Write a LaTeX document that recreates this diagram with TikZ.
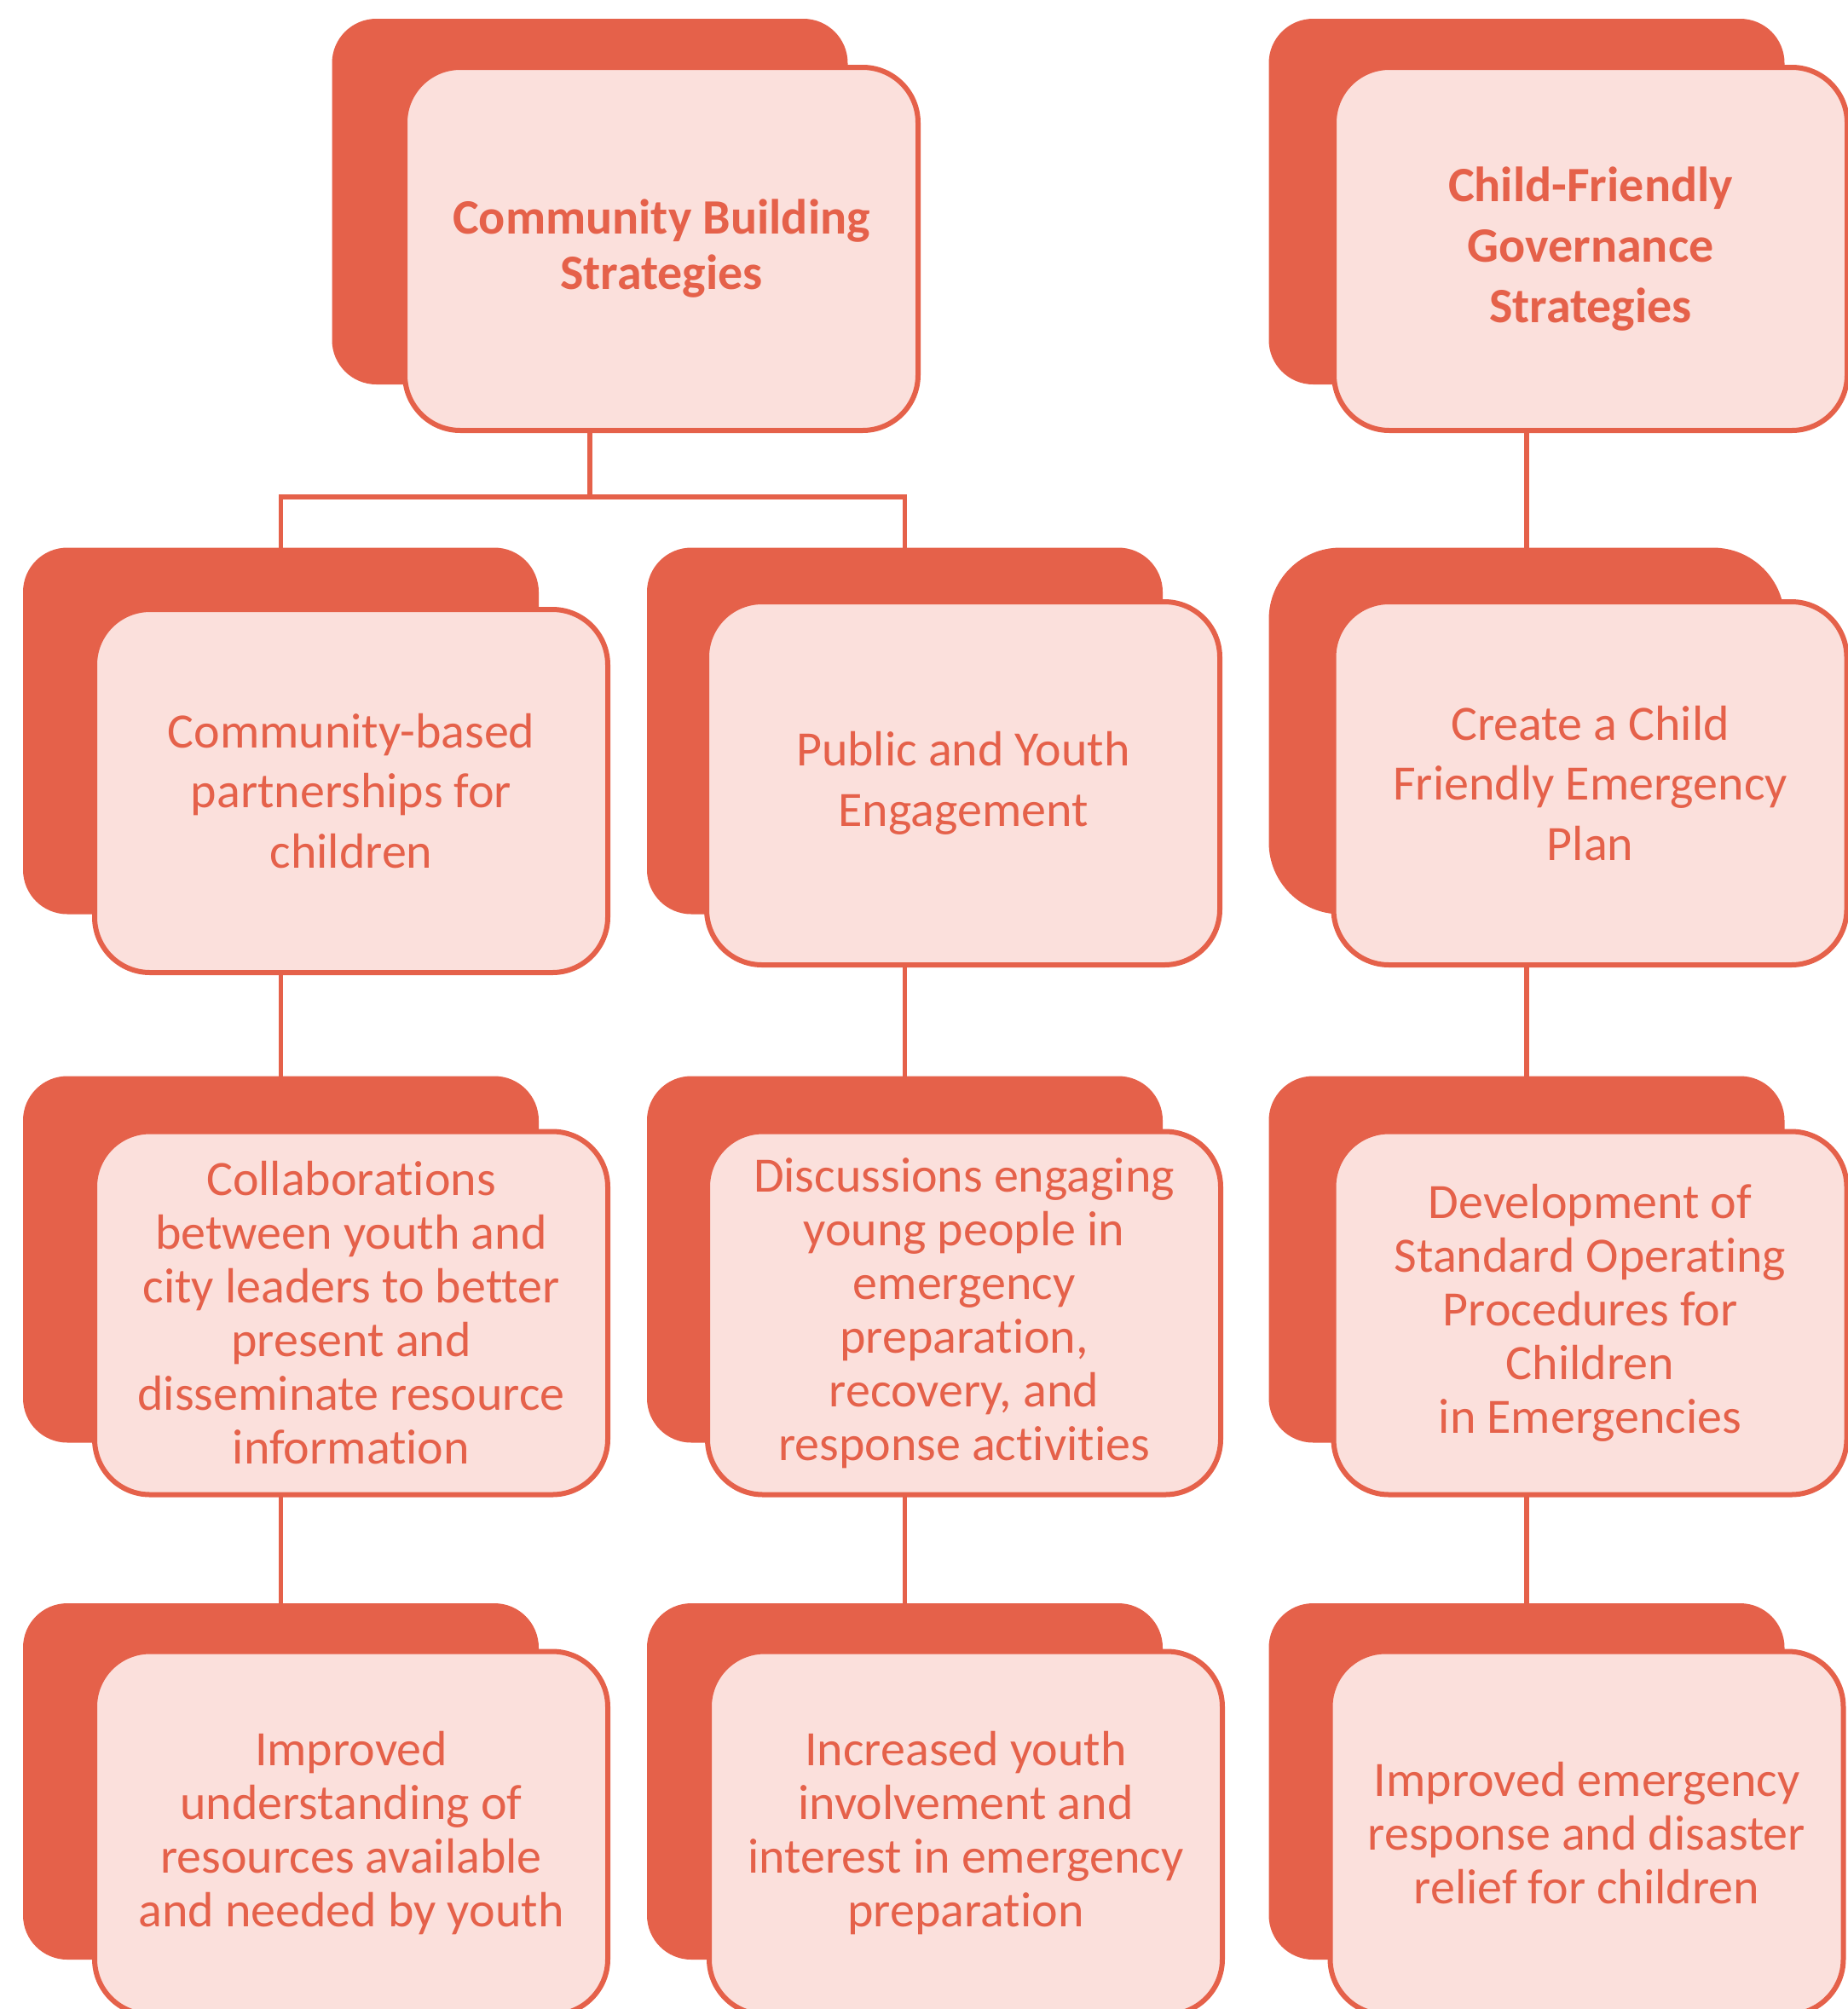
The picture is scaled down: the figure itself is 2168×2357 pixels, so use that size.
\documentclass[tikz,border=0pt]{standalone}
\usepackage{fontspec}
\setmainfont[Ligatures=NoCommon]{Carlito}
\usetikzlibrary{backgrounds}
\definecolor{orangeD}{RGB}{229,97,74}
\definecolor{pinkL}{RGB}{251,224,220}
\begin{document}
\begin{tikzpicture}[x=0.5pt,y=-0.5pt,
  backcard/.style={fill=orangeD, draw=none, rounded corners=26pt, inner sep=0pt, outer sep=0pt,
    minimum width=302.5pt, minimum height=215pt},
  frontcard/.style={fill=pinkL, draw=orangeD, line width=3pt, rounded corners=32.5pt, inner sep=0pt,
    outer sep=0pt, minimum width=301pt, minimum height=213pt, text=orangeD, align=center,
    font=\fontsize{29}{35.35}\selectfont},
  tight/.style={font=\fontsize{29}{31.5}\selectfont},
  titlefont/.style={font=\fontsize{29}{#1}\selectfont\bfseries},
  conn/.style={draw=orangeD, line width=2.7pt}]
\useasboundingbox (0,0) rectangle (2168,2357);
\clip (0,0) rectangle (2168,2357);

% Row 1
\node[backcard, minimum height=214.5pt] (cbB) at (692,236.5) {};
\node[frontcard, titlefont=32.5] (cb) at (776,292) {Community Building\\Strategies};
\node[backcard, minimum height=214.5pt] (cfB) at (1791,236.5) {};
\node[frontcard, titlefont=35.35] (cf) at (1866,292) {Child-Friendly\\Governance\\Strategies};

% Row 2
\node[backcard] (c1r2B) at (329.5,857.5) {};
\node[frontcard] (c1r2) at (412,928) {Community-based\\partnerships for\\children};
\node[backcard] (c2r2B) at (1061.5,857.5) {};
\node[frontcard] (c2r2) at (1130,919) {Public and Youth\\Engagement};
\node[backcard, rounded corners=42pt] (c3r2B) at (1791,857.5) {};
\node[frontcard] (c3r2) at (1865.5,919) {Create a Child\\Friendly Emergency\\Plan};

% Row 3
\node[backcard] (c1r3B) at (329.5,1477.5) {};
\node[frontcard, tight] (c1r3) at (412,1540.5) {Collaborations\\between youth and\\city leaders to better\\present and\\disseminate resource\\information};
\node[backcard] (c2r3B) at (1061.5,1477.5) {};
\node[frontcard, tight] (c2r3) at (1131,1540.5) {Discussions engaging\\young people in\\emergency\\preparation,\\recovery, and\\response activities};
\node[backcard] (c3r3B) at (1791,1477.5) {};
\node[frontcard, tight] (c3r3) at (1865.5,1540.5) {Development of\\Standard Operating\\Procedures for\\Children\\in Emergencies};

% Row 4
\node[backcard, minimum height=209pt] (c1r4B) at (329.5,2090) {};
\node[frontcard, tight] (c1r4) at (412,2150.5) {Improved\\understanding of\\resources available\\and needed by youth};
\node[backcard, minimum height=209pt] (c2r4B) at (1061.5,2090) {};
\node[frontcard, tight] (c2r4) at (1133,2150.5) {Increased youth\\involvement and\\interest in emergency\\preparation};
\node[backcard, minimum height=209pt] (c3r4B) at (1791,2090) {};
\node[frontcard, tight] (c3r4) at (1861.5,2150.5) {Improved emergency\\response and disaster\\relief for children};

\coordinate (j) at (692,583);
\begin{scope}[on background layer]
  \draw[conn] (cbB.south) -- (j);
  \draw[conn] (c1r2B.north) |- (j) -| (c2r2B.north);
  \draw[conn] (c1r2B.south) -- (c1r3B.north);
  \draw[conn] (c1r3B.south) -- (c1r4B.north);
  \draw[conn] (c2r2B.south) -- (c2r3B.north);
  \draw[conn] (c2r3B.south) -- (c2r4B.north);
  \draw[conn] (cfB.south) -- (c3r2B.north);
  \draw[conn] (c3r2B.south) -- (c3r3B.north);
  \draw[conn] (c3r3B.south) -- (c3r4B.north);
\end{scope}
\end{tikzpicture}
\end{document}
